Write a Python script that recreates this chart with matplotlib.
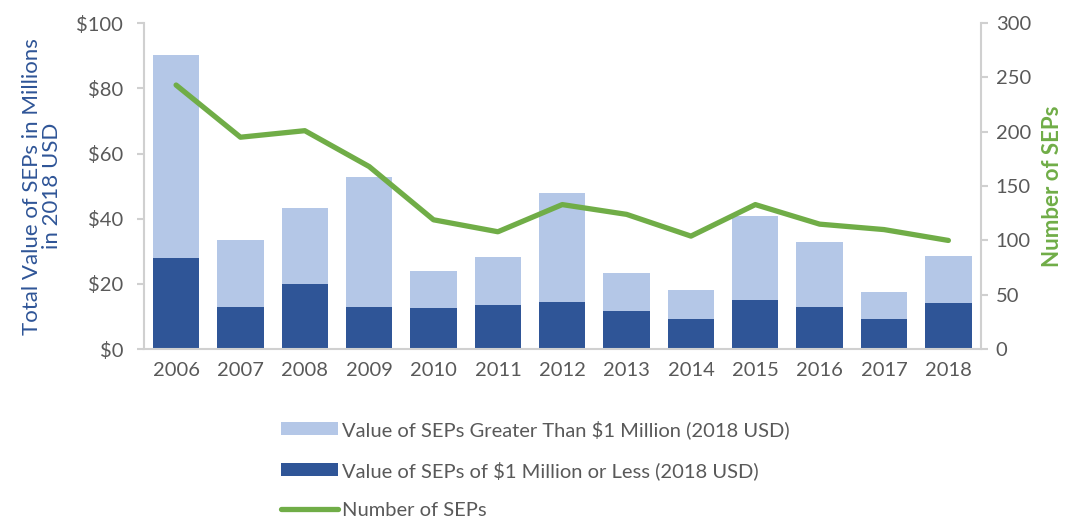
import matplotlib
matplotlib.use("Agg")
import matplotlib.pyplot as plt
from matplotlib.ticker import FuncFormatter

plt.rcParams["font.family"] = ["Lato", "DejaVu Sans"]

years = ["2006", "2007", "2008", "2009", "2010", "2011", "2012",
         "2013", "2014", "2015", "2016", "2017", "2018"]
small_value = [28.0, 13.0, 20.0, 13.0, 12.5, 13.4, 14.5,
               11.8, 9.3, 15.2, 13.0, 9.3, 14.0]
total_value = [90.2, 33.4, 43.2, 52.7, 23.9, 28.2, 47.9,
               23.5, 18.0, 40.8, 33.0, 17.6, 28.6]
large_value = [t - s for t, s in zip(total_value, small_value)]
num_seps = [243, 195, 201, 168, 119, 108, 133, 124, 104, 133, 115, 110, 100]

DARK = "#2F5597"
LIGHT = "#B4C7E7"
GREEN = "#70AD47"
GREY_TXT = "#595959"
GREY_AX = "#D0D0D0"

fig = plt.figure(figsize=(10.74, 5.25), dpi=100)
ax = fig.add_axes([0.134, 0.335, 0.779, 0.621])
ax2 = ax.twinx()

x = list(range(len(years)))
b_small = ax.bar(x, small_value, width=0.72, color=DARK, zorder=2)
b_large = ax.bar(x, large_value, bottom=small_value, width=0.72,
                 color=LIGHT, zorder=2)
ln, = ax2.plot(x, num_seps, color=GREEN, linewidth=3.8,
               solid_capstyle="round", solid_joinstyle="round")

ax.set_xlim(-0.5, len(years) - 0.5)
ax.set_ylim(0, 100)
ax2.set_ylim(0, 300)
ax.set_xticks(x)
ax.set_xticklabels(years)
ax.set_yticks(range(0, 101, 20))
ax.yaxis.set_major_formatter(FuncFormatter(lambda v, p: f"${v:.0f}"))
ax2.set_yticks(range(0, 301, 50))

for a in (ax, ax2):
    for s in a.spines.values():
        s.set_color(GREY_AX)
        s.set_linewidth(1.5)
    a.spines["top"].set_visible(False)
ax.spines["right"].set_visible(False)
ax2.spines["left"].set_visible(False)
ax2.spines["bottom"].set_visible(False)

ax.tick_params(axis="x", length=0, pad=9, labelsize=14.5, labelcolor=GREY_TXT)
ax.tick_params(axis="y", length=5, width=1.5, color=GREY_AX, pad=10,
               labelsize=14.5, labelcolor=GREY_TXT)
ax2.tick_params(axis="y", length=5, width=1.5, color=GREY_AX, pad=6,
                labelsize=14.5, labelcolor=GREY_TXT)

ax.set_ylabel("Total Value of SEPs in Millions\nin 2018 USD", color=DARK,
              fontsize=16, labelpad=10, linespacing=1.05)
ax2.set_ylabel("Number of SEPs", color=GREEN, fontsize=16,
               fontweight="bold", labelpad=8)

fig.legend([b_large, b_small, ln],
           ["Value of SEPs Greater Than $1 Million (2018 USD)",
            "Value of SEPs of $1 Million or Less (2018 USD)",
            "Number of SEPs"],
           loc="upper left", bbox_to_anchor=(0.262, 0.2), frameon=False,
           fontsize=14.5, labelcolor=GREY_TXT, handlelength=2.8,
           handleheight=0.65, handletextpad=0.2, labelspacing=1.1,
           borderpad=0, borderaxespad=0)

fig.savefig("out.png", dpi=100)
